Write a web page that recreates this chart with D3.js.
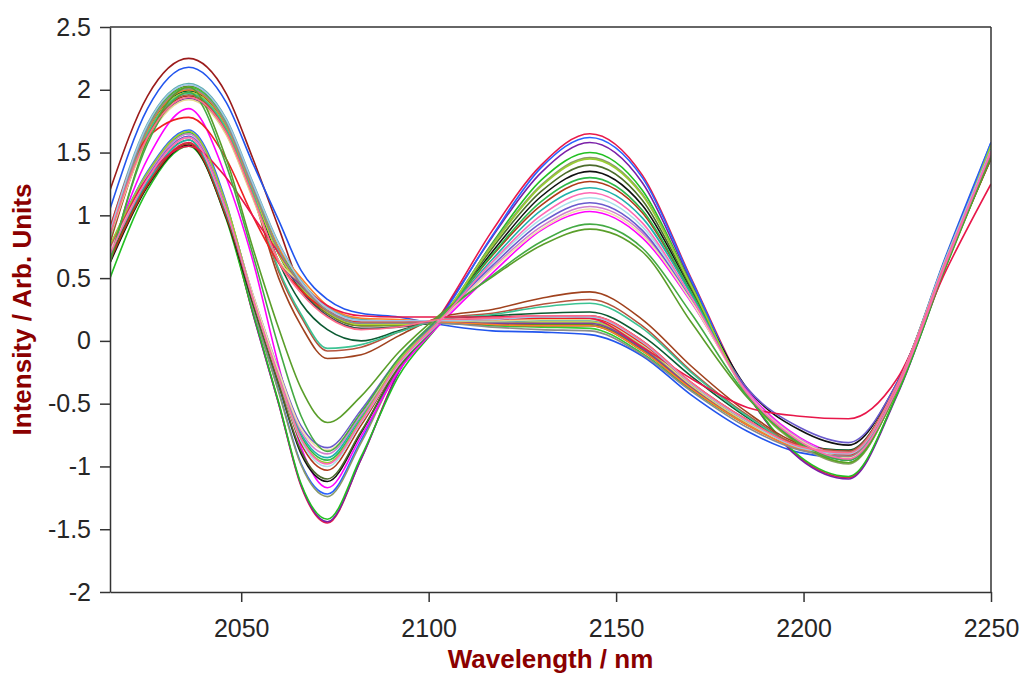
<!DOCTYPE html>
<html>
<head>
<meta charset="utf-8">
<script src="https://cdn.jsdelivr.net/npm/d3@7"></script>
<style>
  body { margin: 0; background: #fff; }
  .axis text { font-family: Arial, "Liberation Sans", sans-serif; font-size: 25px; fill: #262626; }
  .axis path, .axis line { stroke: #333; stroke-width: 1.5px; }
  .title { font-family: Arial, "Liberation Sans", sans-serif; font-size: 26px; font-weight: bold; fill: #8b0000; }
</style>
</head>
<body>
<div id="chart-area"></div>
<script>
var wavelengths = [2015, 2025, 2036, 2046, 2053, 2060, 2066, 2073, 2082, 2092, 2103,
  2117, 2130, 2143, 2157, 2170, 2185, 2199, 2212, 2225, 2238, 2250];

var xTicks = [2050, 2100, 2150, 2200, 2250];
var yTicks = [-2, -1.5, -1, -0.5, 0, 0.5, 1, 1.5, 2, 2.5];

// spectra with a deep band at 2073 and a strong band at 2143
var spectraA = [
  [0.65, 1.25, 1.58, 1.00, 0.23, -0.50, -1.16, -1.45, -0.94, -0.24, 0.20, 0.88, 1.40, 1.65, 1.32, 0.50, -0.42, -0.93, -1.09, -0.42, 0.60, 1.50],
  [0.70, 1.29, 1.62, 1.04, 0.23, -0.50, -1.15, -1.44, -0.94, -0.25, 0.19, 0.83, 1.34, 1.58, 1.26, 0.47, -0.42, -0.94, -1.10, -0.43, 0.60, 1.52],
  [0.50, 1.20, 1.55, 0.97, 0.24, -0.49, -1.14, -1.42, -0.92, -0.28, 0.14, 0.78, 1.28, 1.50, 1.20, 0.45, -0.42, -0.92, -1.08, -0.42, 0.59, 1.48],
  [0.75, 1.35, 1.68, 1.10, 0.28, -0.40, -0.98, -1.22, -0.79, -0.21, 0.18, 0.84, 1.38, 1.62, 1.30, 0.49, -0.42, -0.81, -0.95, -0.38, 0.65, 1.58],
  [0.72, 1.32, 1.65, 1.07, 0.28, -0.41, -0.99, -1.24, -0.81, -0.22, 0.16, 0.77, 1.24, 1.46, 1.17, 0.44, -0.43, -0.83, -0.98, -0.39, 0.63, 1.55],
  [0.70, 1.45, 1.85, 1.30, 0.65, -0.20, -0.85, -1.17, -0.76, -0.24, 0.13, 0.54, 0.88, 1.03, 0.82, 0.31, -0.40, -0.77, -0.90, -0.36, 0.62, 1.50],
  [0.62, 1.23, 1.56, 0.98, 0.31, -0.35, -0.90, -1.12, -0.73, -0.20, 0.16, 0.71, 1.15, 1.35, 1.08, 0.41, -0.38, -0.71, -0.83, -0.33, 0.62, 1.48],
  [0.66, 1.27, 1.60, 1.02, 0.32, -0.35, -0.88, -1.10, -0.72, -0.21, 0.15, 0.74, 1.19, 1.40, 1.12, 0.42, -0.42, -0.81, -0.95, -0.38, 0.62, 1.52],
  [0.64, 1.24, 1.57, 0.99, 0.34, -0.31, -0.82, -1.03, -0.67, -0.19, 0.17, 0.68, 1.08, 1.27, 1.02, 0.38, -0.42, -0.79, -0.93, -0.37, 0.61, 1.47],
  [0.72, 1.30, 1.63, 1.05, 0.35, -0.30, -0.80, -1.00, -0.65, -0.19, 0.15, 0.62, 0.97, 1.14, 0.91, 0.34, -0.42, -0.78, -0.92, -0.37, 0.63, 1.54],
  [0.74, 1.33, 1.66, 1.08, 0.36, -0.28, -0.76, -0.95, -0.62, -0.16, 0.18, 0.69, 1.11, 1.30, 1.04, 0.39, -0.43, -0.82, -0.97, -0.39, 0.62, 1.53],
  [0.70, 1.27, 1.60, 1.02, 0.36, -0.27, -0.74, -0.93, -0.60, -0.17, 0.17, 0.65, 1.04, 1.22, 0.98, 0.37, -0.42, -0.81, -0.95, -0.38, 0.62, 1.51],
  [0.73, 1.32, 1.65, 1.07, 0.37, -0.26, -0.72, -0.90, -0.59, -0.17, 0.15, 0.58, 0.91, 1.07, 0.86, 0.32, -0.41, -0.78, -0.92, -0.37, 0.62, 1.50],
  [0.70, 1.30, 1.63, 1.05, 0.38, -0.23, -0.68, -0.85, -0.55, -0.14, 0.18, 0.60, 0.94, 1.10, 0.88, 0.33, -0.38, -0.69, -0.81, -0.33, 0.62, 1.49],
  [0.71, 1.29, 1.62, 1.04, 0.38, -0.24, -0.70, -0.87, -0.57, -0.16, 0.16, 0.57, 0.89, 1.05, 0.84, 0.32, -0.42, -0.79, -0.93, -0.37, 0.62, 1.52],
  [0.76, 1.34, 1.67, 1.09, 0.35, -0.29, -0.78, -0.97, -0.63, -0.16, 0.17, 0.76, 1.23, 1.45, 1.16, 0.44, -0.43, -0.82, -0.97, -0.39, 0.63, 1.56],
  [0.62, 1.60, 2.02, 1.45, 0.75, 0.10, -0.38, -0.65, -0.44, -0.09, 0.21, 0.51, 0.76, 0.89, 0.71, 0.15, -0.45, -0.82, -0.97, -0.39, 0.60, 1.46],
  [0.64, 1.57, 1.98, 1.40, 0.70, -0.05, -0.60, -0.88, -0.57, -0.14, 0.19, 0.52, 0.79, 0.93, 0.74, 0.22, -0.44, -0.81, -0.95, -0.38, 0.61, 1.50],
  [0.69, 1.29, 1.62, 1.04, 0.35, -0.29, -0.78, -0.98, -0.64, -0.18, 0.16, 0.63, 1.00, 1.18, 0.94, 0.35, -0.42, -0.80, -0.94, -0.38, 0.62, 1.51]
];
var colorsA = ["#e8194a", "#7a1fa8", "#22c022", "#2962ff", "#8a9a6a", "#ff00ff", "#111111",
  "#4b6b2b", "#b03a1a", "#a8e0ea", "#2db84a", "#20b2aa", "#d080d0", "#6a5acd",
  "#f0e0a8", "#9acd32", "#5a9e2a", "#44aa44", "#ff69b4"];

// spectra with a flat region around 2080-2140
var spectraB = [
  [1.20, 1.95, 2.25, 1.97, 1.46, 0.90, 0.42, 0.22, 0.12, 0.13, 0.16, 0.17, 0.19, 0.20, 0.00, -0.33, -0.63, -0.84, -0.90, -0.36, 0.62, 1.45],
  [1.05, 1.85, 2.18, 1.90, 1.42, 0.96, 0.56, 0.33, 0.22, 0.19, 0.13, 0.08, 0.07, 0.05, -0.12, -0.43, -0.72, -0.89, -0.93, -0.36, 0.68, 1.58],
  [0.90, 1.73, 2.05, 1.77, 1.27, 0.78, 0.48, 0.27, 0.17, 0.16, 0.16, 0.15, 0.16, 0.16, -0.04, -0.36, -0.66, -0.85, -0.90, -0.35, 0.66, 1.52],
  [0.85, 1.71, 2.03, 1.75, 1.25, 0.73, 0.42, 0.22, 0.12, 0.12, 0.14, 0.13, 0.13, 0.13, -0.07, -0.37, -0.65, -0.84, -0.88, -0.35, 0.65, 1.50],
  [0.88, 1.70, 2.02, 1.74, 1.24, 0.74, 0.46, 0.25, 0.15, 0.15, 0.15, 0.12, 0.11, 0.10, -0.10, -0.39, -0.67, -0.85, -0.90, -0.35, 0.66, 1.52],
  [0.80, 1.68, 2.00, 1.72, 1.22, 0.69, 0.40, 0.20, 0.10, 0.11, 0.14, 0.13, 0.12, 0.12, -0.08, -0.38, -0.66, -0.85, -0.89, -0.35, 0.64, 1.48],
  [0.82, 1.67, 1.99, 1.71, 1.21, 0.63, 0.30, 0.09, 0.00, 0.08, 0.17, 0.20, 0.22, 0.23, 0.04, -0.28, -0.61, -0.83, -0.87, -0.35, 0.64, 1.48],
  [0.86, 1.66, 1.98, 1.70, 1.20, 0.69, 0.43, 0.23, 0.13, 0.13, 0.16, 0.14, 0.15, 0.15, -0.05, -0.36, -0.66, -0.85, -0.90, -0.35, 0.65, 1.50],
  [0.78, 1.63, 1.95, 1.67, 1.17, 0.50, 0.12, -0.14, -0.11, 0.04, 0.19, 0.25, 0.34, 0.39, 0.17, -0.20, -0.57, -0.82, -0.88, -0.34, 0.62, 1.45],
  [0.80, 1.64, 1.96, 1.68, 1.18, 0.55, 0.19, -0.08, -0.05, 0.07, 0.18, 0.22, 0.29, 0.33, 0.12, -0.24, -0.59, -0.83, -0.88, -0.35, 0.63, 1.47],
  [0.82, 1.65, 1.97, 1.69, 1.19, 0.57, 0.21, -0.06, -0.03, 0.07, 0.17, 0.21, 0.27, 0.30, 0.10, -0.25, -0.60, -0.84, -0.89, -0.35, 0.64, 1.48],
  [0.84, 1.61, 1.93, 1.65, 1.15, 0.64, 0.44, 0.24, 0.14, 0.14, 0.15, 0.14, 0.14, 0.14, -0.06, -0.37, -0.67, -0.86, -0.92, -0.36, 0.65, 1.50],
  [0.83, 1.60, 1.92, 1.64, 1.14, 0.64, 0.46, 0.25, 0.15, 0.15, 0.16, 0.16, 0.17, 0.17, -0.03, -0.35, -0.65, -0.85, -0.90, -0.35, 0.64, 1.49],
  [0.85, 1.68, 2.00, 1.72, 1.22, 0.74, 0.50, 0.28, 0.18, 0.17, 0.15, 0.13, 0.12, 0.12, -0.08, -0.38, -0.67, -0.86, -0.91, -0.35, 0.65, 1.51],
  [0.90, 1.62, 1.78, 1.45, 1.00, 0.62, 0.40, 0.24, 0.15, 0.15, 0.16, 0.17, 0.18, 0.18, -0.02, -0.34, -0.64, -0.84, -0.91, -0.35, 0.65, 1.50],
  [0.75, 1.30, 1.55, 1.30, 1.00, 0.70, 0.45, 0.28, 0.20, 0.19, 0.19, 0.19, 0.20, 0.18, -0.05, -0.30, -0.53, -0.60, -0.62, -0.30, 0.56, 1.25],
  [0.84, 1.69, 2.01, 1.73, 1.23, 0.72, 0.45, 0.24, 0.14, 0.14, 0.14, 0.11, 0.09, 0.08, -0.11, -0.40, -0.69, -0.87, -0.92, -0.36, 0.66, 1.52],
  [0.87, 1.72, 2.04, 1.76, 1.26, 0.77, 0.47, 0.26, 0.16, 0.16, 0.16, 0.17, 0.19, 0.19, -0.01, -0.34, -0.64, -0.85, -0.90, -0.35, 0.66, 1.52],
  [0.85, 1.62, 1.94, 1.66, 1.16, 0.63, 0.38, 0.19, 0.09, 0.11, 0.17, 0.18, 0.20, 0.20, 0.00, -0.33, -0.63, -0.84, -0.89, -0.35, 0.64, 1.50]
];
var colorsB = ["#9b1b1b", "#2255ee", "#5fb0b0", "#6b8e23", "#33cc33", "#2f4f4f", "#0b5a32",
  "#b5d334", "#a0421e", "#b5533c", "#3cc393", "#7b3fa0", "#e6d98c", "#ff7f27",
  "#ee2222", "#e8174a", "#8c8c8c", "#a0c4e8", "#ff6b8b"];

// set the dimensions and margins of the graph
var margin = { top: 27, right: 33, bottom: 85, left: 110 },
  width = 1024 - margin.left - margin.right,
  height = 677 - margin.top - margin.bottom;

var svg = d3.select("#chart-area")
  .append("svg")
  .attr("width", 1024)
  .attr("height", 677)
  .append("g")
  .attr("transform", "translate(" + margin.left + "," + margin.top + ")");

var x = d3.scaleLinear().domain([2015, 2250]).range([0, width]);
var y = d3.scaleLinear().domain([-2, 2.5]).range([height, 0]);

svg.append("clipPath")
  .attr("id", "plot-clip")
  .append("rect")
  .attr("width", width)
  .attr("height", height);

// interleave the two sets so the colours mix like the original
var spectra = [], colors = [];
for (var i = 0; i < Math.max(spectraA.length, spectraB.length); i++) {
  if (i < spectraB.length) { spectra.push(spectraB[i]); colors.push(colorsB[i]); }
  if (i < spectraA.length) { spectra.push(spectraA[i]); colors.push(colorsA[i]); }
}

var line = d3.line()
  .x(function(d, i) { return x(wavelengths[i]); })
  .y(function(d) { return y(d); })
  .curve(d3.curveMonotoneX);

svg.append("g")
  .attr("clip-path", "url(#plot-clip)")
  .selectAll("path")
  .data(spectra)
  .enter()
  .append("path")
  .attr("d", line)
  .attr("fill", "none")
  .attr("stroke-width", 1.6)
  .attr("stroke", function(d, i) { return colors[i]; });

// frame: top and right
svg.append("line")
  .attr("x1", 0).attr("x2", width).attr("y1", 0).attr("y2", 0)
  .attr("stroke", "#333").attr("stroke-width", 1.5);
svg.append("line")
  .attr("x1", width).attr("x2", width).attr("y1", 0).attr("y2", height)
  .attr("stroke", "#333").attr("stroke-width", 1.5);

// X axis
svg.append("g")
  .attr("class", "axis")
  .attr("transform", "translate(0," + height + ")")
  .call(d3.axisBottom(x).tickValues(xTicks).tickSize(10).tickPadding(17)
    .tickSizeOuter(0).tickFormat(function(d) { return String(d); }));

// Y axis
svg.append("g")
  .attr("class", "axis")
  .call(d3.axisLeft(y).tickValues(yTicks).tickSize(10).tickPadding(9)
    .tickSizeOuter(0).tickFormat(function(d) { return String(d); }));

svg.append("text")
  .attr("class", "title")
  .attr("x", width / 2)
  .attr("y", height + 76)
  .attr("text-anchor", "middle")
  .text("Wavelength / nm");

svg.append("text")
  .attr("class", "title")
  .attr("transform", "translate(" + (-79) + "," + (height / 2) + ") rotate(-90)")
  .attr("text-anchor", "middle")
  .text("Intensity / Arb. Units");
</script>
</body>
</html>
